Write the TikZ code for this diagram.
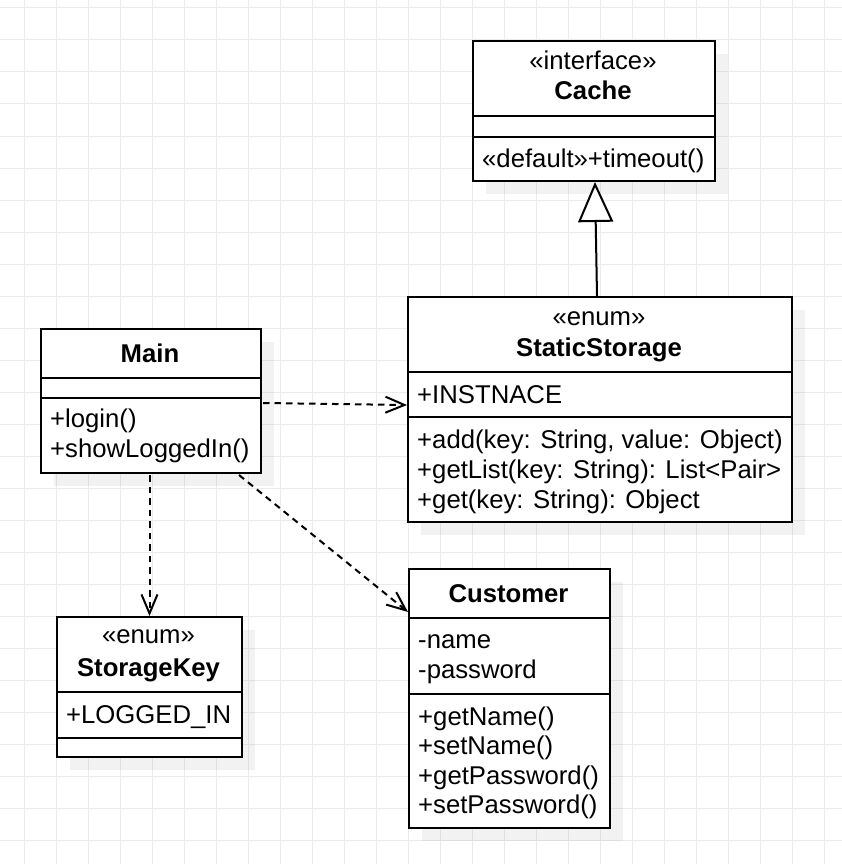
\documentclass[tikz,border=0pt]{standalone}
\usepackage{fontspec}
\setmainfont{Liberation Sans}
\usetikzlibrary{arrows.meta}
\begin{document}
\begin{tikzpicture}[x=1pt,y=-1pt,
  gridline/.style={draw=black!8, line width=1pt},
  classbox/.style={draw, line width=2pt, fill=white, inner sep=0pt, anchor=north west},
  shade/.style={fill=black, opacity=0.05},
  divider/.style={line width=2pt},
  txt/.style={inner sep=0pt, anchor=base west, font=\fontsize{25.7pt}{30pt}\selectfont},
  ttl/.style={inner sep=0pt, anchor=base, font=\fontsize{25.7pt}{30pt}\selectfont},
  dep/.style={line width=2pt, dash pattern=on 6.5pt off 5pt, -{Straight Barb[length=19pt,width=16pt,line width=2pt]}},
  gen/.style={line width=2pt, -{Triangle[open,length=40pt,width=35pt,line width=2pt,fill=white]}}
]
\useasboundingbox (0,0) rectangle (842,864);
\fill[white] (0,0) rectangle (842,864);
% grid
\foreach \x in {24,56,...,824} \draw[gridline] (\x,0) -- (\x,864);
\foreach \y in {8,40,...,840} \draw[gridline] (0,\y) -- (842,\y);
% shadows
\fill[shade] (486,54) rectangle (728,194);
\fill[shade] (421,310) rectangle (805,535);
\fill[shade] (54,342) rectangle (274,486);
\fill[shade] (70,630) rectangle (255,770);
\fill[shade] (422,582) rectangle (623,841);
% class boxes
\node (cache) [classbox, minimum width=242pt, minimum height=140pt] at (472,40) {};
\node (ss) [classbox, minimum width=384pt, minimum height=225pt] at (407,296) {};
\node (main) [classbox, minimum width=220pt, minimum height=144pt] at (40,328) {};
\node (sk) [classbox, minimum width=185pt, minimum height=140pt] at (56,616) {};
\node (cust) [classbox, minimum width=201pt, minimum height=259pt] at (408,568) {};
% dividers
\draw[divider] (cache.west |- 0,116) -- (cache.east |- 0,116);
\draw[divider] (cache.west |- 0,137) -- (cache.east |- 0,137);
\draw[divider] (ss.west |- 0,372) -- (ss.east |- 0,372);
\draw[divider] (ss.west |- 0,417) -- (ss.east |- 0,417);
\draw[divider] (main.west |- 0,378) -- (main.east |- 0,378);
\draw[divider] (main.west |- 0,398) -- (main.east |- 0,398);
\draw[divider] (sk.west |- 0,692) -- (sk.east |- 0,692);
\draw[divider] (sk.west |- 0,738) -- (sk.east |- 0,738);
\draw[divider] (cust.west |- 0,618) -- (cust.east |- 0,618);
\draw[divider] (cust.west |- 0,694) -- (cust.east |- 0,694);
% Cache texts
\node (cache-st) [ttl] at (593,69.5) {«interface»};
\node (cache-nm) [ttl] at (593,100) {\bfseries Cache};
\node (cache-op1) [txt] at (482,167) {«default»+timeout()};
% StaticStorage texts
\node (ss-st) [ttl] at (599,325) {«enum»};
\node (ss-nm) [ttl] at (599,356) {\bfseries StaticStorage};
\node (ss-at1) [txt] at (417,403) {+INSTNACE};
\node (ss-op1) [txt] at (417,448) {+add(key: String, value: Object)};
\node (ss-op2) [txt] at (417,478) {+getList(key: String): List<Pair>};
\node (ss-op3) [txt] at (417,508) {+get(key: String): Object};
% Main texts
\node (main-nm) [ttl] at (150,362) {\bfseries Main};
\node (main-op1) [txt] at (50,427) {+login()};
\node (main-op2) [txt] at (50,457) {+showLoggedIn()};
% StorageKey texts
\node (sk-st) [ttl] at (148.5,643) {«enum»};
\node (sk-nm) [ttl] at (148.5,676) {\bfseries StorageKey};
\node (sk-at1) [txt] at (66,723) {+LOGGED\_IN};
% Customer texts
\node (cust-nm) [ttl] at (508.5,602) {\bfseries Customer};
\node (cust-at1) [txt] at (418,648) {-name};
\node (cust-at2) [txt] at (418,678) {-password};
\node (cust-op1) [txt] at (418,725) {+getName()};
\node (cust-op2) [txt] at (418,754.5) {+setName()};
\node (cust-op3) [txt] at (418,784) {+getPassword()};
\node (cust-op4) [txt] at (418,813.5) {+setPassword()};
% connectors
\draw[gen] ([xshift=-3pt]ss.north) -- ([xshift=1pt]cache.south);
\draw[dep] ([yshift=-2pt,xshift=1pt]main.east) -- ([yshift=4.5pt]ss.west);
\draw[dep] ([yshift=-1pt]main.south -| sk.north) -- (sk.north);
\draw[dep] ([xshift=-23pt,yshift=-1pt]main.south east) -- ([yshift=-44pt]cust.north west);
\end{tikzpicture}
\end{document}
